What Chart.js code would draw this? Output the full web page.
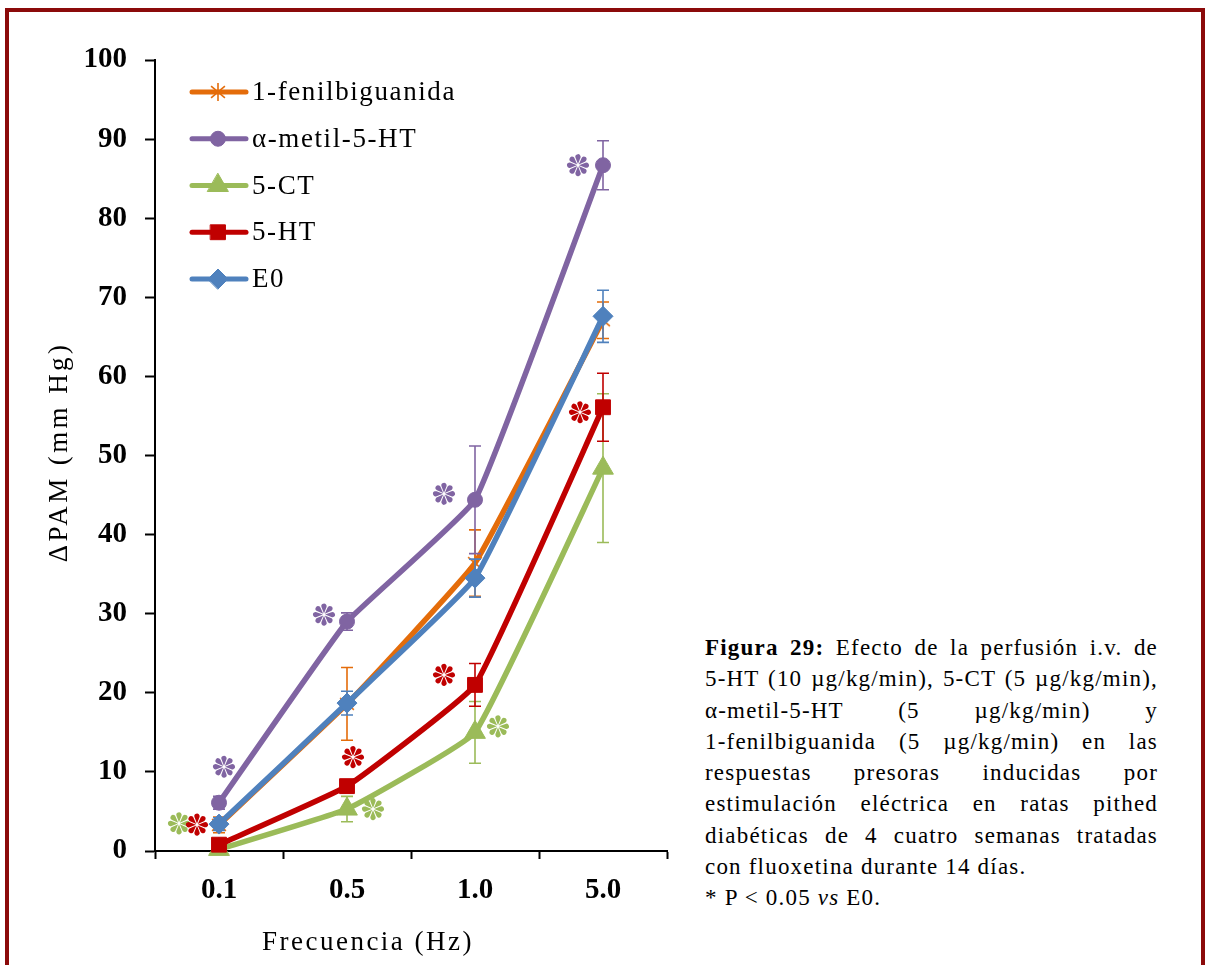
<!DOCTYPE html>
<html lang="es">
<head>
<meta charset="utf-8">
<title>Figura 29</title>
<script src="https://cdn.jsdelivr.net/npm/chart.js@4.4.1/dist/chart.umd.min.js"></script>
<style>
  html, body { margin: 0; padding: 0; background: #fff; }
  body { width: 1205px; height: 965px; position: relative; overflow: hidden; }
  /* marco rojo oscuro alrededor de la figura */
  #marco {
    position: absolute; left: 5px; top: 8px; width: 1200px; height: 1100px;
    border: 4px solid #8b0a0a; box-sizing: border-box;
  }
  #grafico { position: absolute; left: 0; top: 0; }
  #pie {
    position: absolute; left: 705px; top: 632px; width: 453px;
    font-family: "Liberation Serif", "Times New Roman", serif;
    font-size: 23px; line-height: 31.3px; letter-spacing: 1.2px; color: #000;
  }
  #pie .j { text-align: justify; text-align-last: justify; }
</style>
</head>
<body>
<div id="marco"></div>
<canvas id="grafico" width="700" height="965"></canvas>
<div id="pie">
  <div class="j"><b>Figura 29:</b> Efecto de la perfusión i.v. de</div>
  <div class="j">5-HT (10 µg/kg/min), 5-CT (5 µg/kg/min),</div>
  <div class="j">α-metil-5-HT (5 µg/kg/min) y</div>
  <div class="j">1-fenilbiguanida (5 µg/kg/min) en las</div>
  <div class="j">respuestas presoras inducidas por</div>
  <div class="j">estimulación eléctrica en ratas pithed</div>
  <div class="j">diabéticas de 4 cuatro semanas tratadas</div>
  <div>con fluoxetina durante 14 días.</div>
  <div>* P &lt; 0.05 <i>vs</i> E0.</div>
</div>
<script>
// =========================================
// DATOS
// =========================================
const frecuencias = ["0.1", "0.5", "1.0", "5.0"];
const nombresSeries = ["1-fenilbiguanida", "α-metil-5-HT", "5-CT", "5-HT", "E0"];

const fenilbiguanida = [3.3, 18.6, 36.4, 67.1];
const fenilbiguanidaEE = [1.0, 4.6, 4.2, 2.3];
const metil5HT = [6.1, 29.0, 44.4, 86.7];
const metil5HTEE = [0.8, 1.1, 6.8, 3.1];
const ct5 = [0.2, 5.3, 15.0, 48.4];
const ct5EE = [0.4, 1.6, 3.9, 9.4];
const ht5 = [0.8, 8.2, 21.0, 56.1];
const ht5EE = [0.5, 0.8, 2.7, 4.3];
const e0 = [3.4, 18.7, 34.5, 67.6];
const e0EE = [0.8, 1.5, 2.4, 3.3];

const ticksY = [0, 10, 20, 30, 40, 50, 60, 70, 80, 90, 100];

// índices de frecuencia con P < 0.05 vs E0
const sigMetil = [0, 1, 2, 3];
const sigCT = [0, 1, 2];
const sigHT = [0, 1, 2, 3];

// =========================================
// ESTILOS
// =========================================
const FUENTE = "'Liberation Serif', 'Times New Roman', serif";
const colores = ["#e46c0a", "#8064a2", "#9bbb59", "#c00000", "#4f81bd"];

// marcador "estrella" de Excel (sin brazo horizontal)
function crearEstrella(color, r) {
    const c = document.createElement("canvas");
    const s = Math.ceil(r * 2 + 4);
    c.width = s;
    c.height = s;
    const g = c.getContext("2d");
    g.strokeStyle = color;
    g.lineWidth = 1.6;
    const m = s / 2;
    [90, 40, 140].forEach((a) => {
        const rad = a * Math.PI / 180;
        g.beginPath();
        g.moveTo(m - Math.cos(rad) * r, m - Math.sin(rad) * r);
        g.lineTo(m + Math.cos(rad) * r, m + Math.sin(rad) * r);
        g.stroke();
    });
    return c;
}

const marcadores = [
    { estilo: crearEstrella(colores[0], 9), radio: 9 },
    { estilo: "circle", radio: 7.5 },
    { estilo: "triangle", radio: 12 },
    { estilo: "rect", radio: 10.5 },
    { estilo: "rectRot", radio: 10 }
];

// posición de cada asterisco respecto al punto (px)
const desplazamientoAsterisco = {
    1: [[5, -36], [-23, -7], [-31, -6], [-25, 0]],
    2: [[-40, -26], [26, 0], [23, -6]],
    3: [[-22, -20], [6, -29], [-31, -10], [-23, 5]]
};
const significativos = { 1: sigMetil, 2: sigCT, 3: sigHT };

// =========================================
// FUNCIONES DE DIBUJO
// =========================================
// asterisco de 8 pétalos en forma de lágrima
function dibujarAsterisco(ctx, x, y, r, color) {
    const punta = 0.1 * r;
    const cx = 0.76 * r;
    const rc = 0.24 * r;
    const alfa = Math.asin(rc / (cx - punta));
    const ang = Math.PI / 2 + alfa;
    ctx.save();
    ctx.fillStyle = color;
    ctx.translate(x, y);
    for (let k = 0; k < 8; k++) {
        ctx.save();
        ctx.rotate(k * Math.PI / 4 + Math.PI / 8 * 0);
        ctx.beginPath();
        ctx.moveTo(punta, 0);
        ctx.lineTo(cx + rc * Math.cos(-ang), rc * Math.sin(-ang));
        ctx.arc(cx, 0, rc, -ang, ang, false);
        ctx.closePath();
        ctx.fill();
        ctx.restore();
    }
    ctx.restore();
}

const barrasError = {
    id: "barrasError",
    beforeDatasetDraw(chart, args) {
        const ds = chart.data.datasets[args.index];
        const ctx = chart.ctx;
        const escalaY = chart.scales.y;
        ctx.save();
        ctx.strokeStyle = ds.borderColor;
        ctx.lineWidth = 1.6;
        args.meta.data.forEach((pt, i) => {
            const v = ds.data[i];
            const e = ds.errores[i];
            const yArr = escalaY.getPixelForValue(v + e);
            const yAba = escalaY.getPixelForValue(v - e);
            ctx.beginPath();
            ctx.moveTo(pt.x, yArr);
            ctx.lineTo(pt.x, yAba);
            ctx.moveTo(pt.x - 6, yArr);
            ctx.lineTo(pt.x + 6, yArr);
            ctx.moveTo(pt.x - 6, yAba);
            ctx.lineTo(pt.x + 6, yAba);
            ctx.stroke();
        });
        ctx.restore();
    }
};

const asteriscos = {
    id: "asteriscos",
    afterDatasetsDraw(chart) {
        const ctx = chart.ctx;
        Object.keys(significativos).forEach((s) => {
            const meta = chart.getDatasetMeta(Number(s));
            significativos[s].forEach((idx, k) => {
                const pt = meta.data[idx];
                const d = desplazamientoAsterisco[s][k];
                dibujarAsterisco(ctx, pt.x + d[0], pt.y + d[1], 11, colores[s]);
            });
        });
    }
};

const leyendaYTitulos = {
    id: "leyendaYTitulos",
    afterDraw(chart) {
        const ctx = chart.ctx;
        // leyenda
        nombresSeries.forEach((nombre, i) => {
            const y = 92 + i * 46.75;
            ctx.save();
            ctx.strokeStyle = colores[i];
            ctx.lineWidth = 5;
            ctx.lineCap = "round";
            ctx.beginPath();
            ctx.moveTo(192, y);
            ctx.lineTo(246, y);
            ctx.stroke();
            ctx.fillStyle = colores[i];
            ctx.strokeStyle = colores[i];
            ctx.lineWidth = 1;
            Chart.helpers.drawPoint(ctx, {
                pointStyle: marcadores[i].estilo,
                radius: marcadores[i].radio,
                rotation: 0,
                borderWidth: 1
            }, 218, y);
            ctx.fillStyle = "#000";
            ctx.font = "27px " + FUENTE;
            ctx.letterSpacing = "1.6px";
            ctx.textBaseline = "middle";
            ctx.textAlign = "left";
            ctx.fillText(nombre, 252, y + 1);
            ctx.restore();
        });
        // títulos de ejes
        ctx.save();
        ctx.fillStyle = "#000";
        ctx.font = "27px " + FUENTE;
        ctx.letterSpacing = "2.5px";
        ctx.textAlign = "center";
        ctx.textBaseline = "middle";
        ctx.fillText("Frecuencia (Hz)", 368, 943);
        ctx.letterSpacing = "3.4px";
        ctx.translate(60, 452);
        ctx.rotate(-Math.PI / 2);
        ctx.fillText("ΔPAM (mm Hg)", 0, 0);
        ctx.restore();
    }
};

// =========================================
// GRÁFICO
// =========================================
const valores = [fenilbiguanida, metil5HT, ct5, ht5, e0];
const errores = [fenilbiguanidaEE, metil5HTEE, ct5EE, ht5EE, e0EE];

new Chart(document.getElementById("grafico"), {
    type: "line",
    data: {
        labels: frecuencias,
        datasets: nombresSeries.map((nombre, i) => ({
            label: nombre,
            data: valores[i],
            errores: errores[i],
            borderColor: colores[i],
            backgroundColor: colores[i],
            borderWidth: 5.5,
            tension: 0.1,
            pointStyle: marcadores[i].estilo,
            pointRadius: marcadores[i].radio,
            pointBackgroundColor: colores[i],
            pointBorderColor: colores[i],
            pointBorderWidth: 1,
            clip: false,
            order: 5 - i
        }))
    },
    options: {
        responsive: false,
        animation: false,
        events: [],
        layout: { padding: { top: 60, right: 33, bottom: 0, left: 0 } },
        plugins: { legend: { display: false }, tooltip: { enabled: false } },
        scales: {
            x: {
                offset: true,
                grid: { offset: true, drawOnChartArea: false, tickLength: 8, tickColor: "#000", tickWidth: 2 },
                border: { color: "#000", width: 2 },
                ticks: { color: "#000", padding: 14, font: { family: FUENTE, size: 29, weight: "bold" } },
                afterFit: (s) => { s.height = 114; }
            },
            y: {
                min: 0,
                max: 100,
                afterBuildTicks: (s) => { s.ticks = ticksY.map((v) => ({ value: v })); },
                grid: { drawOnChartArea: false, tickLength: 10, tickColor: "#000", tickWidth: 2 },
                border: { color: "#000", width: 2 },
                ticks: { color: "#000", padding: 18, font: { family: FUENTE, size: 29, weight: "bold" } },
                afterFit: (s) => { s.width = 155; }
            }
        }
    },
    plugins: [barrasError, asteriscos, leyendaYTitulos]
});
</script>
</body>
</html>
